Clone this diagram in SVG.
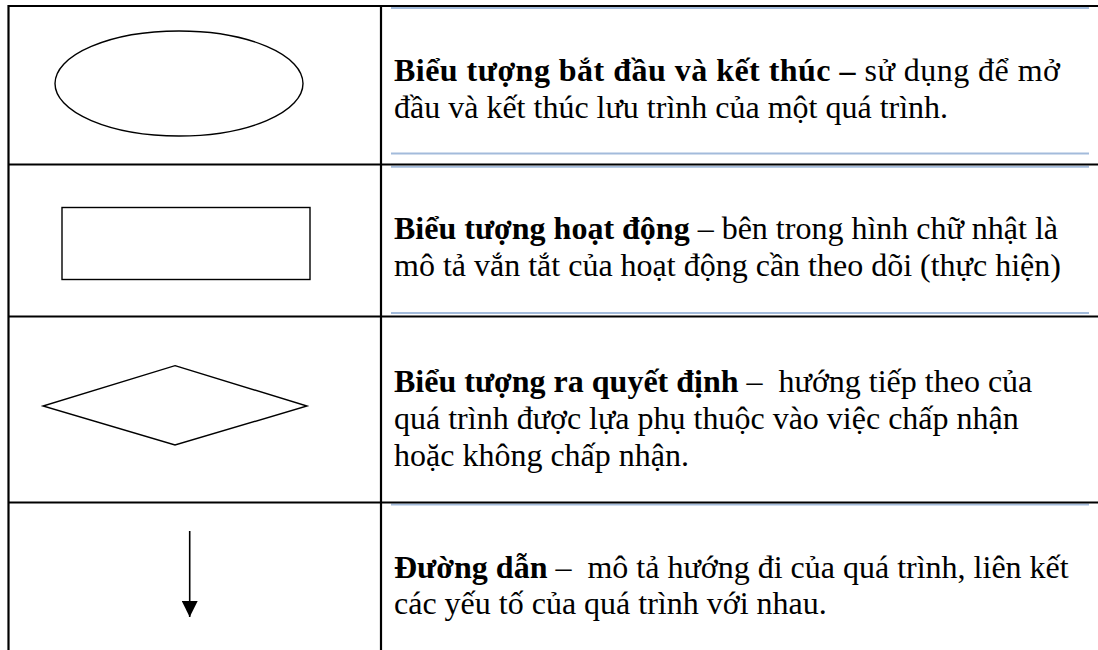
<svg xmlns="http://www.w3.org/2000/svg" width="1098" height="650" viewBox="0 0 1098 650">
<style>
.grid{stroke:#000;stroke-width:2.2;fill:none}
.blue{stroke:#a3bbdb;stroke-width:2;fill:none}
.shape{stroke:#000;stroke-width:1.4;fill:none}
.t{font-family:"Liberation Serif","Times New Roman",serif;font-size:32px;fill:#000}
.b{font-weight:bold}
</style>
<defs>
<marker id="arr" viewBox="0 0 10 10" refX="10" refY="5" markerWidth="16" markerHeight="16" markerUnits="userSpaceOnUse" orient="auto">
<path d="M0,0 L10,5 L0,10 Z" fill="#000"/>
</marker>
</defs>
<rect width="1098" height="650" fill="#fff"/>
<g id="table">
<line class="blue" x1="391" y1="8" x2="1089" y2="8"/>
<line class="blue" x1="391" y1="153.5" x2="1089" y2="153.5"/>
<line class="blue" x1="391" y1="166.8" x2="1089" y2="166.8"/>
<line class="blue" x1="391" y1="313" x2="1089" y2="313"/>
<line class="blue" x1="391" y1="504.5" x2="1089" y2="504.5"/>
<line class="grid" x1="8.5" y1="6" x2="1098" y2="6"/>
<line class="grid" x1="8.5" y1="164.5" x2="1098" y2="164.5"/>
<line class="grid" x1="8.5" y1="316.5" x2="1098" y2="316.5"/>
<line class="grid" x1="8.5" y1="502.5" x2="1098" y2="502.5"/>
<line class="grid" x1="8.5" y1="5" x2="8.5" y2="650"/>
<line class="grid" x1="381" y1="5" x2="381" y2="650"/>
</g>
<g id="terminal">
<ellipse class="shape" cx="179" cy="83.5" rx="124" ry="52.5"/>
</g>
<g id="process">
<rect class="shape" x="62" y="207.5" width="248" height="72"/>
</g>
<g id="decision">
<polygon class="shape" points="175,365.7 307,406 175,445 43,406"/>
</g>
<g id="connectors">
<line x1="189.7" y1="531" x2="189.7" y2="617" stroke="#000" stroke-width="1.6" marker-end="url(#arr)"/>
</g>
<g id="text1">
<text class="t" x="394" y="81" textLength="666" lengthAdjust="spacing"><tspan class="b">Biểu tượng bắt đầu và kết thúc –</tspan> sử dụng để mở</text>
<text class="t" x="394" y="118">đầu và kết thúc lưu trình của một quá trình.</text>
</g>
<g id="text2">
<text class="t" x="394" y="238.5"><tspan class="b">Biểu tượng hoạt động</tspan> – bên trong hình chữ nhật là</text>
<text class="t" x="394" y="276">mô tả vắn tắt của hoạt động cần theo dõi (thực hiện)</text>
</g>
<g id="text3">
<text class="t" x="394" y="392" xml:space="preserve"><tspan class="b">Biểu tượng ra quyết định</tspan> –  hướng tiếp theo của</text>
<text class="t" x="394" y="429">quá trình được lựa phụ thuộc vào việc chấp nhận</text>
<text class="t" x="394" y="466">hoặc không chấp nhận.</text>
</g>
<g id="text4">
<text class="t" x="394" y="577.5" xml:space="preserve"><tspan class="b">Đường dẫn</tspan> –  mô tả hướng đi của quá trình, liên kết</text>
<text class="t" x="394" y="614">các yếu tố của quá trình với nhau.</text>
</g>
</svg>
